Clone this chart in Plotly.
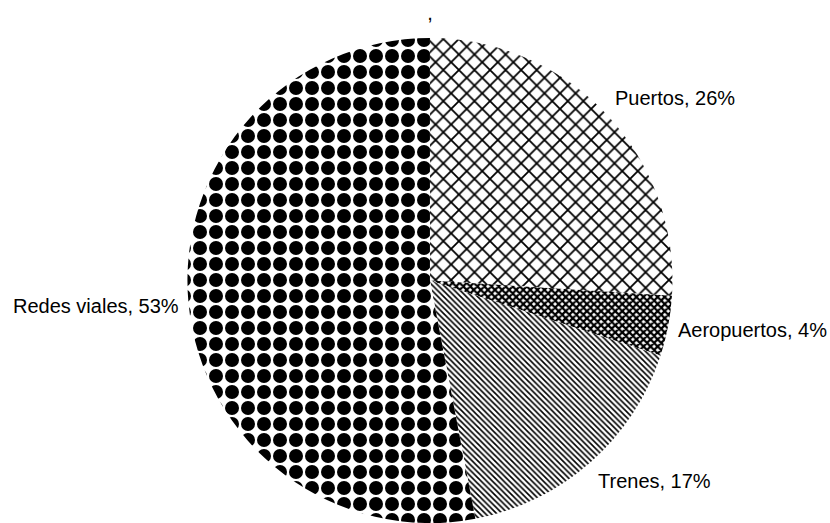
import math
import plotly.graph_objects as go

labels = ["Puertos", "Aeropuertos", "Trenes", "Redes viales"]
values = [26, 4, 17, 53]
shapes = ["x", "x", "\\", "."]
sizes = [11, 5, 4, 16]
solidities = [0.3, 0.7, 0.4, 0.6]

W, H = 830, 523
M_T, M_B = 38, 0
DOM_X = [0.036, 1.0]
FONT = "Liberation Sans, Arial, sans-serif"

fig = go.Figure(go.Pie(
    labels=labels,
    values=values,
    sort=False,
    direction="clockwise",
    rotation=0,
    textinfo="none",
    marker=dict(
        colors=["white"] * 4,
        line=dict(width=0),
        pattern=dict(shape=shapes, size=sizes, solidity=solidities,
                     fgcolor="black", bgcolor="white", fgopacity=1,
                     fillmode="overlay"),
    ),
    domain=dict(x=DOM_X, y=[0.0, 1.0]),
    showlegend=False,
    hoverinfo="label+percent",
))

# outside labels placed from the slice mid-angles (Excel style)
plot_h = H - M_T - M_B
cx = (DOM_X[0] + DOM_X[1]) / 2 * W
cy = M_T + plot_h / 2
r = min((DOM_X[1] - DOM_X[0]) * W, plot_h) / 2
total = sum(values)
cum = 0
annotations = []
for lab, v in zip(labels, values):
    mid = (cum + v / 2) / total * 2 * math.pi
    cum += v
    s, c = math.sin(mid), math.cos(mid)
    px = cx + (r + 8) * s
    py = cy - (r * 1.1) * c
    annotations.append(dict(
        x=px / W, y=(H - M_B - py) / plot_h, xref="paper", yref="paper",
        text=f"{lab}, {round(v / total * 100)}%",
        showarrow=False,
        xanchor="left" if s >= 0 else "right", yanchor="middle",
        font=dict(family=FONT, size=20, color="black"),
    ))

fig.update_layout(
    width=W, height=H,
    margin=dict(l=0, r=0, t=M_T, b=M_B),
    paper_bgcolor="white",
    plot_bgcolor="white",
    annotations=annotations,
    title=dict(text=",", x=0.518, xanchor="center", y=1 - 6 / H, yanchor="top",
               pad=dict(t=0, b=0, l=0, r=0),
               font=dict(family=FONT, size=20, color="black")),
)

fig.write_html("out.html")
